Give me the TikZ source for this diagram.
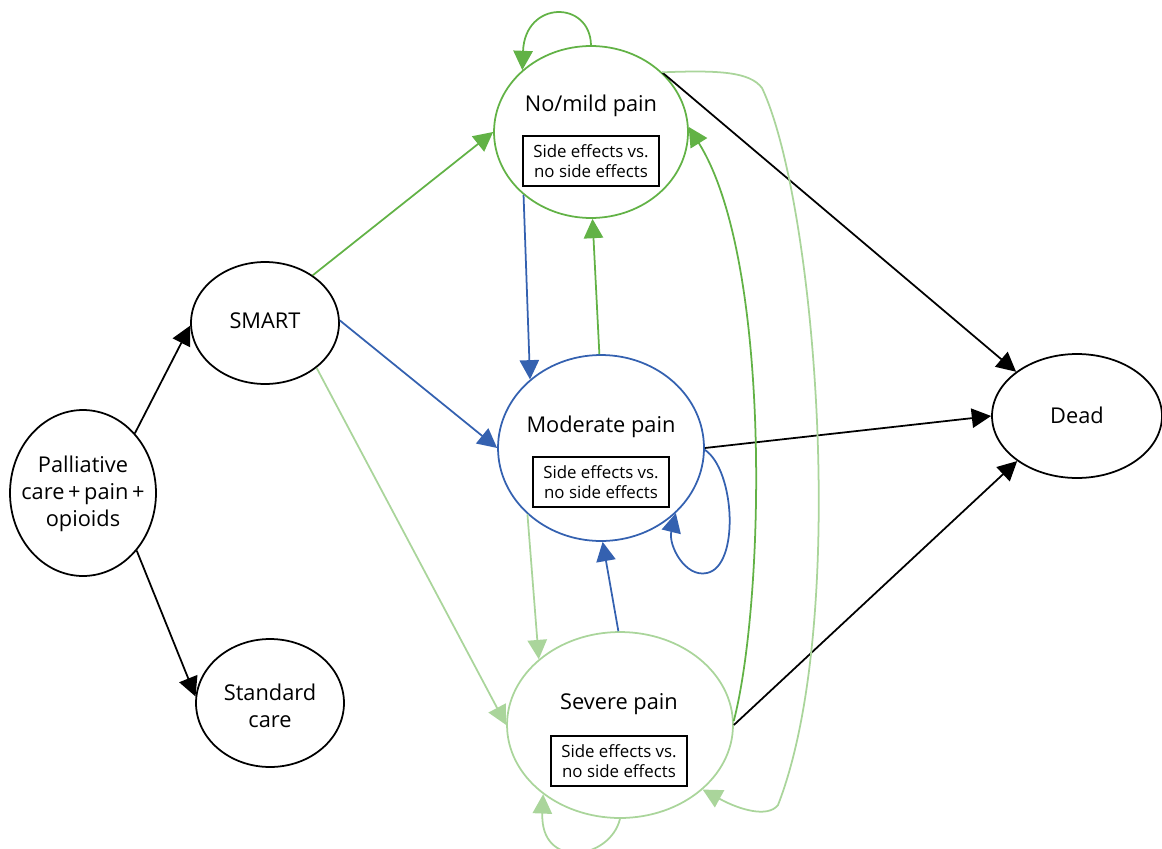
\documentclass[tikz,border=0pt]{standalone}
\usepackage{fontspec}
\setmainfont{Open Sans}
\usetikzlibrary{shapes.geometric}
\usetikzlibrary{arrows.meta}
\definecolor{dkgreen}{RGB}{98,178,70}
\definecolor{ltgreen}{RGB}{170,213,155}
\definecolor{stblue}{RGB}{52,97,176}

\begin{document}
\begin{tikzpicture}[x=0.02cm, y=-0.02cm,
    state/.style={ellipse, draw, line width=1pt, inner sep=0pt},
    title/.style={font=\fontsize{12.4}{15.5}\selectfont, align=center, inner sep=0pt},
    sidebox/.style={draw, line width=0.9pt, minimum width=2.72cm, minimum height=1cm,
        inner sep=1pt, align=center, font=\fontsize{9.6}{11.4}\selectfont},
    link/.style={line width=1pt, -{Triangle[length=11pt, width=11pt]}}]
    \useasboundingbox (0,0) rectangle (1162,848);

    % states
    \node[state, minimum width=2.92cm, minimum height=3.32cm] (pall) at (83,493) {};
    \node[state, minimum width=2.96cm, minimum height=2.44cm] (smart) at (265,323) {};
    \node[state, minimum width=2.96cm, minimum height=2.56cm] (std) at (270,703) {};
    \node[state, dkgreen, minimum width=3.88cm, minimum height=3.44cm] (nomild) at (591,132) {};
    \node[state, stblue, minimum width=4.12cm, minimum height=3.72cm] (moder) at (601,448) {};
    \node[state, ltgreen, minimum width=4.52cm, minimum height=3.72cm] (severe) at (620,725) {};
    \node[state, minimum width=3.4cm, minimum height=2.48cm] (dead) at (1077,416) {};

    % texts
    \node[title] (palltxt) at (83,494) {Palliative\\care\,+\,pain\,+\\opioids};
    \node[title, anchor=base] (smarttxt) at (265,328) {SMART};
    \node[title] (stdtxt) at (270,706) {Standard\\care};
    \node[title, anchor=base] (deadtxt) at (1077,423) {Dead};
    \node[title, anchor=base] (nomildtxt) at (591,112) {No/mild pain};
    \node[title, anchor=base] (modertxt) at (601,432) {Moderate pain};
    \node[title, anchor=base] (severetxt) at (619,709) {Severe pain};
    \node[sidebox] (nomildbox) at (591,161) {Side effects vs.\\no side effects};
    \node[sidebox] (moderbox) at (601,482) {Side effects vs.\\no side effects};
    \node[sidebox] (severebox) at (619,761) {Side effects vs.\\no side effects};

    % transitions
    \draw[link] (pall.49) -- (smart.182);
    \draw[link] (pall.-47) -- (std.175);
    \draw[link, dkgreen] (smart.45) -- (nomild.180);
    \draw[link, stblue] (smart.2) -- (moder.180);
    \draw[link, ltgreen] (smart.-41) -- (severe.180);
    \draw[link, stblue] (nomild.223) -- (moder.136);
    \draw[link, dkgreen] (moder.91) -- (nomild.-89);
    \draw[link, dkgreen] (nomild.90) .. controls (590,0) and (525,0) .. (nomild.138);
    \draw[link] (nomild.40) -- (dead.144);
    \draw[link] (moder.0) -- (dead.180);
    \draw[link] (severe.0) -- (dead.217);
    \draw[link, stblue] (moder.-1) .. controls (735,470) and (740,566) .. (707,573)
        .. controls (685,578) and (668,545) .. (moder.-41);
    \draw[link, ltgreen] (moder.222) -- (severe.141);
    \draw[link, stblue] (severe.91) -- (moder.-89);
    \draw[link, dkgreen] (severe.2) .. controls (765,600) and (772,260) .. (nomild.3);
    \draw[link, ltgreen] (severe.-90) .. controls (610,860) and (540,870) .. (severe.222);
    \draw[link, ltgreen] (nomild.40) .. controls (720,70) and (750,72) .. (762,88)
        .. controls (815,200) and (850,620) .. (778,805)
        .. controls (768,818) and (740,810) .. (severe.-38);
\end{tikzpicture}
\end{document}
